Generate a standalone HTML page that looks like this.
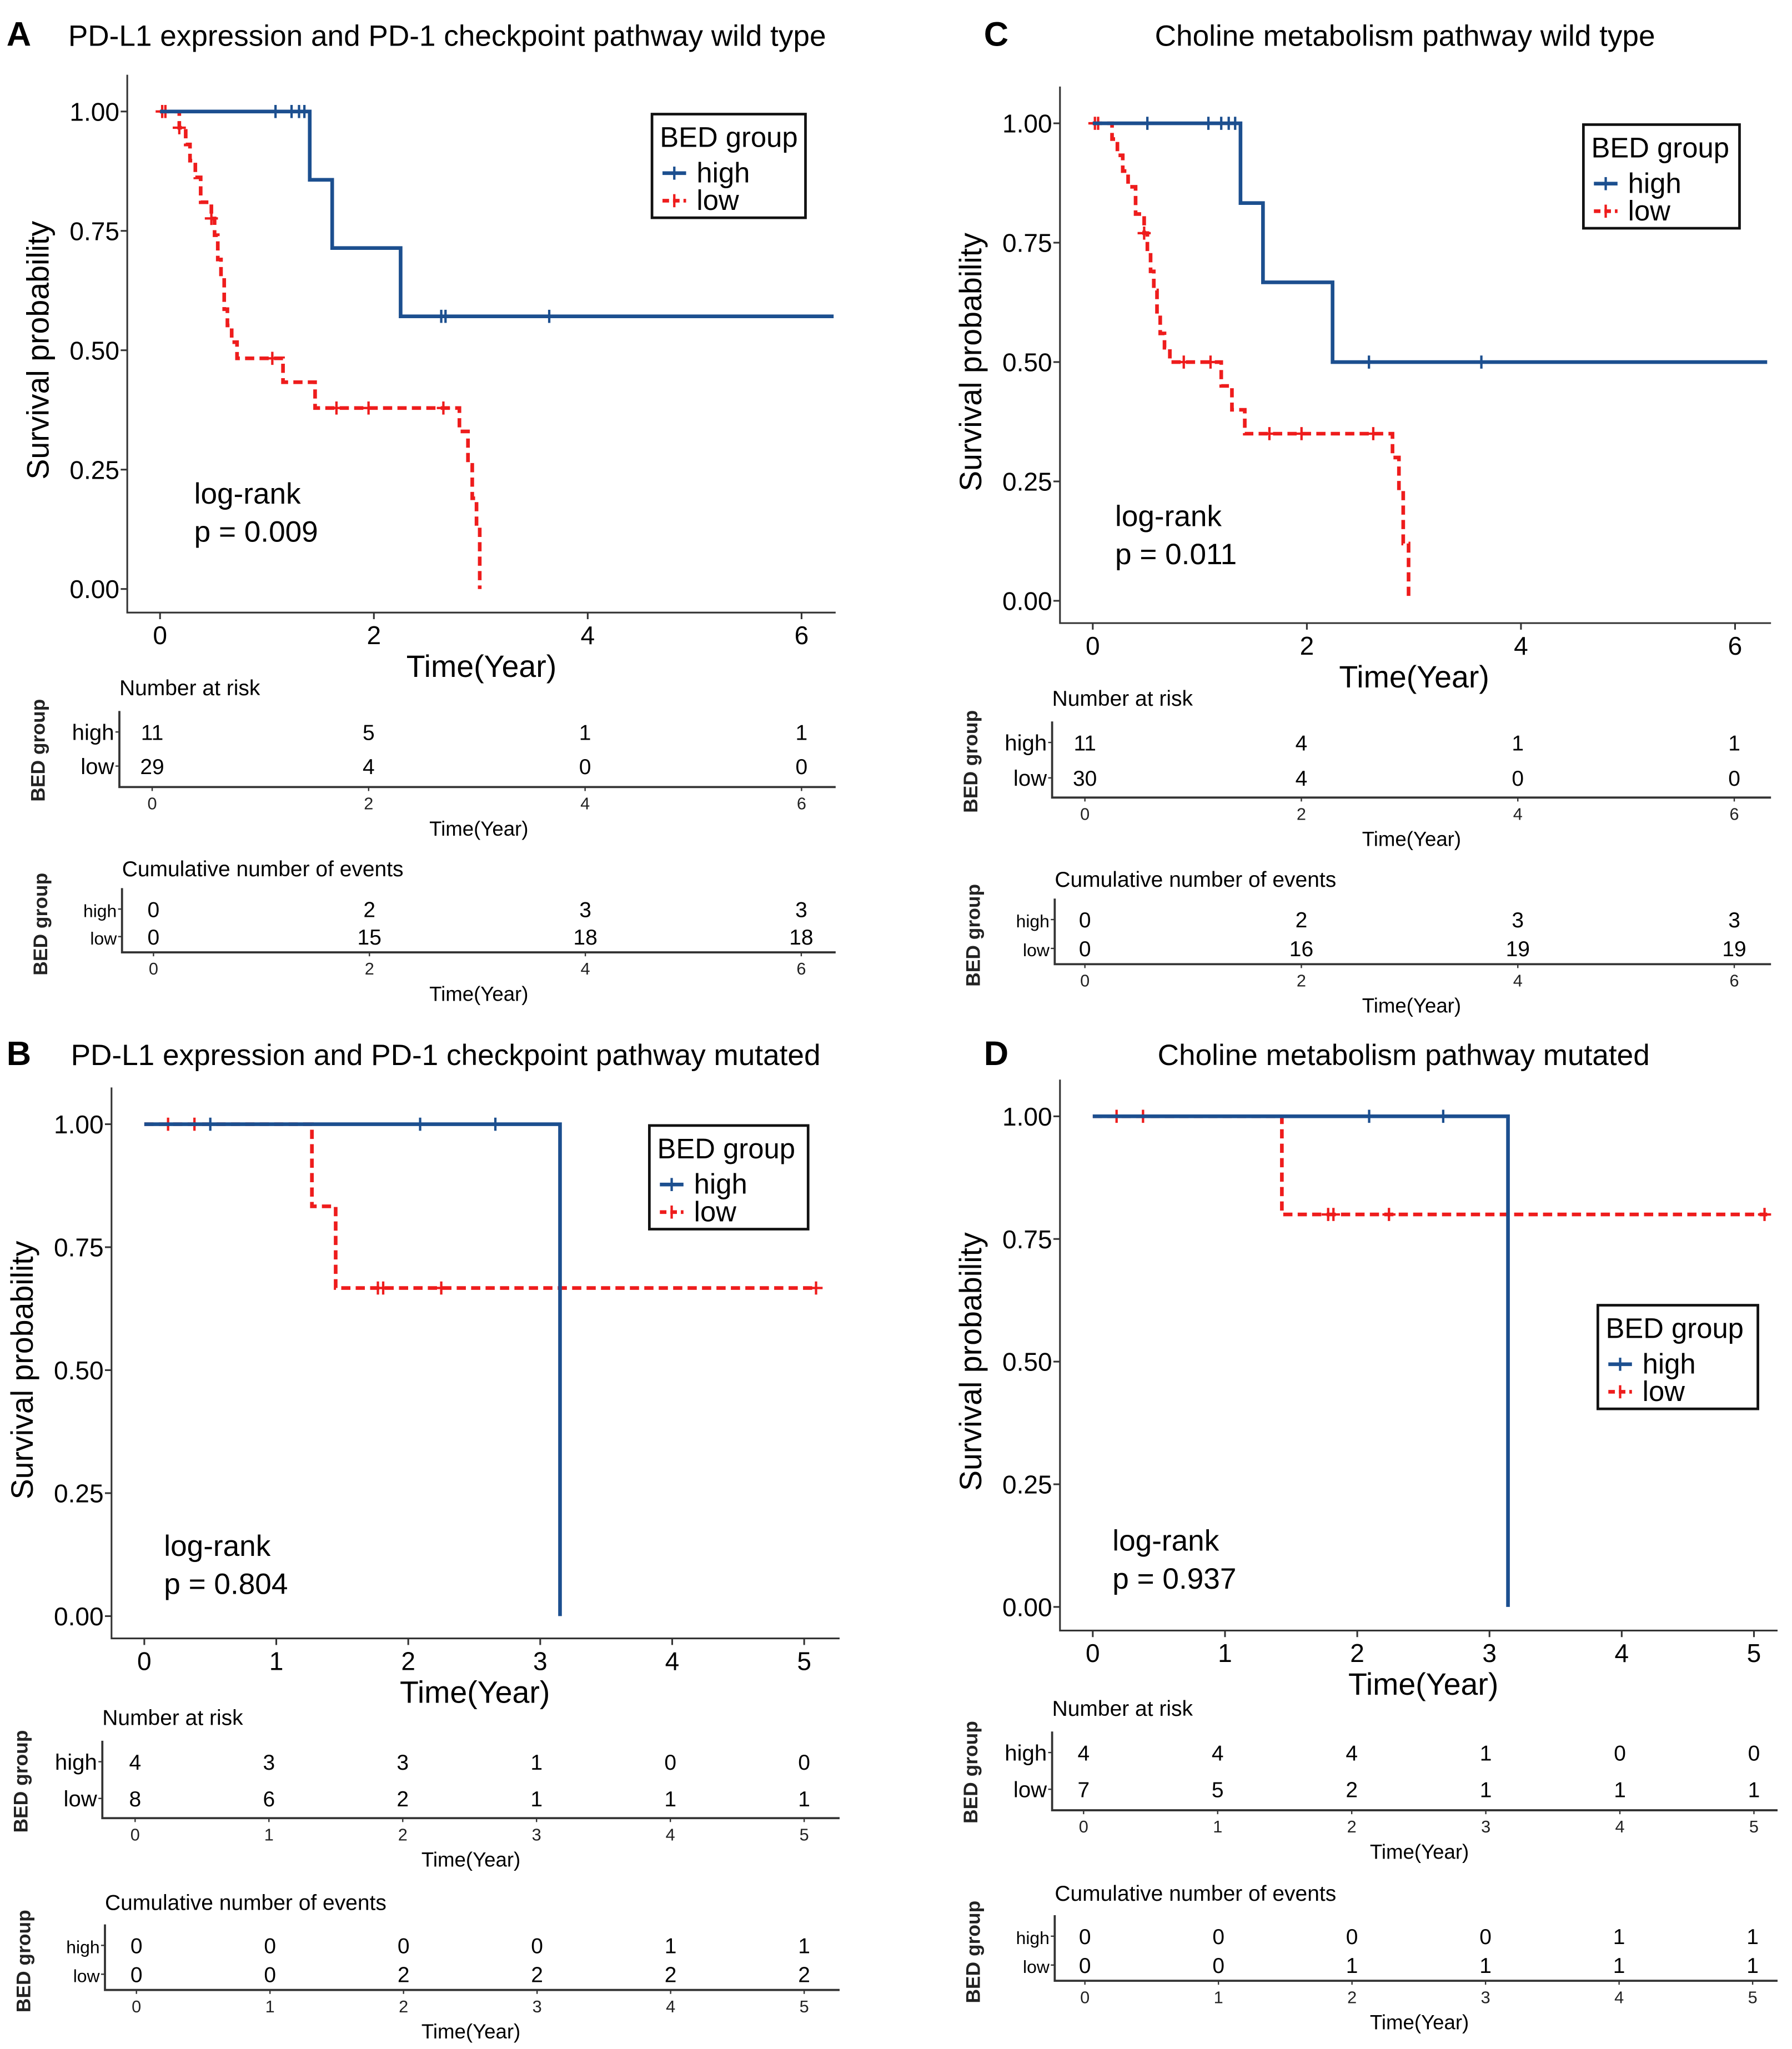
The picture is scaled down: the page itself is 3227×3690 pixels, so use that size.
<!DOCTYPE html>
<html><head><meta charset="utf-8">
<style>
html,body{margin:0;padding:0;background:#fff;}
svg{display:block;font-family:"Liberation Sans",Arial,sans-serif;}
</style></head>
<body>
<svg id="fig" width="3227" height="3690" viewBox="0 0 1366 1562" xmlns="http://www.w3.org/2000/svg"></svg>
<script>
// ===== Data =====
// Panel A
const aHighTimes = [1.40, 1.61, 2.25];
const aHighSurv = [0.857, 0.714, 0.571];
const aHighCensor = [1.08, 1.23, 1.30, 1.35, 2.63, 2.67, 3.64];
const aHighEnd = 6.3;
const aLowTimes = [0.18, 0.24, 0.28, 0.33, 0.38, 0.48, 0.51, 0.54, 0.57, 0.60, 0.63, 0.67, 0.72, 1.15, 1.45, 2.80, 2.88, 2.92, 2.96, 2.99];
const aLowSurv = [0.966, 0.931, 0.897, 0.862, 0.81, 0.776, 0.741, 0.69, 0.655, 0.586, 0.552, 0.517, 0.483, 0.433, 0.379, 0.33, 0.26, 0.19, 0.13, 0.0];
const aLowCensor = [0.02, 0.05, 0.18, 0.48, 1.05, 1.65, 1.95, 2.65];
const aLowEnd = 2.99;
const aRiskHigh = [11, 5, 1, 1];
const aRiskLow = [29, 4, 0, 0];
const aEvHigh = [0, 2, 3, 3];
const aEvLow = [0, 15, 18, 18];
// Panel C
const cHighTimes = [1.38, 1.59, 2.24];
const cHighSurv = [0.833, 0.667, 0.5];
const cHighCensor = [0.51, 1.08, 1.2, 1.27, 1.33, 2.58, 3.63];
const cHighEnd = 6.3;
const cLowTimes = [0.18, 0.23, 0.28, 0.33, 0.40, 0.48, 0.51, 0.54, 0.57, 0.60, 0.63, 0.67, 0.72, 1.20, 1.30, 1.42, 2.80, 2.86, 2.90, 2.95];
const cLowSurv = [0.967, 0.933, 0.9, 0.867, 0.81, 0.77, 0.73, 0.69, 0.65, 0.6, 0.56, 0.53, 0.5, 0.45, 0.4, 0.35, 0.3, 0.23, 0.12, 0.0];
const cLowCensor = [0.02, 0.05, 0.48, 0.85, 1.1, 1.65, 1.95, 2.62];
const cLowEnd = 2.95;
const cRiskHigh = [11, 4, 1, 1];
const cRiskLow = [30, 4, 0, 0];
const cEvHigh = [0, 2, 3, 3];
const cEvLow = [0, 16, 19, 19];
// Panel B
const bHighTimes = [3.15];
const bHighSurv = [0.0];
const bHighCensor = [0.5, 2.09, 2.66];
const bHighEnd = 3.15;
const bLowTimes = [1.27, 1.45];
const bLowSurv = [0.833, 0.667];
const bLowCensor = [0.18, 0.38, 1.77, 1.81, 2.25, 5.09];
const bLowEnd = 5.1;
const bRiskHigh = [4, 3, 3, 1, 0, 0];
const bRiskLow = [8, 6, 2, 1, 1, 1];
const bEvHigh = [0, 0, 0, 0, 1, 1];
const bEvLow = [0, 0, 2, 2, 2, 2];
// Panel D
const dHighTimes = [3.14];
const dHighSurv = [0.0];
const dHighCensor = [2.09, 2.65];
const dHighEnd = 3.14;
const dLowTimes = [1.43];
const dLowSurv = [0.8];
const dLowCensor = [0.18, 0.38, 1.78, 1.82, 2.24, 5.08];
const dLowEnd = 5.1;
const dRiskHigh = [4, 4, 4, 1, 0, 0];
const dRiskLow = [7, 5, 2, 1, 1, 1];
const dEvHigh = [0, 0, 0, 0, 1, 1];
const dEvLow = [0, 0, 1, 1, 1, 1];

const yTickVals = [0, 0.25, 0.5, 0.75, 1];
const yTickLabels = ["0.00", "0.25", "0.50", "0.75", "1.00"];
const xTicks6 = [0, 2, 4, 6];
const xTicks5 = [0, 1, 2, 3, 4, 5];

const NS = "http://www.w3.org/2000/svg";
const svg = document.getElementById("fig");
function mk(tag, attrs, parent, text) {
  const e = document.createElementNS(NS, tag);
  for (const k in attrs) e.setAttribute(k, attrs[k]);
  if (text !== undefined) e.textContent = text;
  (parent || svg).appendChild(e);
  return e;
}
const BLUE = "#1c4f8f", RED = "#ee1c1c";

function survAt(times, surv, t) {
  let s = 1;
  for (let i = 0; i < times.length; i++) if (times[i] <= t) s = surv[i];
  return s;
}

function drawPanel(P) {
  const g = mk("g", {});
  
  
  const X = t => P.x0 + t * P.xs;
  const Y = s => P.y0 + (P.y1 - P.y0) * s;
  const L = mk("text", {x: P.lx, y: P.ty, "font-size": 26, "font-weight": "bold"}, g, P.id);
  
  
  const T = mk("text", {x: P.tx, y: P.ty, "font-size": 22.5, "text-anchor": P.ta}, g, P.title);
  
  
  const ax = mk("path", {d: `M${P.axL},${P.y1 - 28}V${P.axB}H${P.axR}`, fill: "none", stroke: "#333", "stroke-width": 1.3}, g);
  
  
  yTickVals.forEach((v, i) => {
    mk("line", {x1: P.axL - 5, x2: P.axL, y1: Y(v), y2: Y(v), stroke: "#333", "stroke-width": 1.3}, g);
    const t = mk("text", {x: P.axL - 6, y: Y(v) + 7, "font-size": 19.5, "text-anchor": "end"}, g, yTickLabels[i]);
    
    
  });
  P.xt.forEach(v => {
    mk("line", {x1: X(v), x2: X(v), y1: P.axB, y2: P.axB + 5, stroke: "#333", "stroke-width": 1.3}, g);
    const t = mk("text", {x: X(v), y: P.axB + 24, "font-size": 19.5, "text-anchor": "middle"}, g, String(v));
    
    
  });
  const xl = mk("text", {x: P.xlx, y: P.axB + 49, "font-size": 23.5, "text-anchor": "middle"}, g, "Time(Year)");
  
  
  const ylx = P.axL - 60, yly = (Y(0) + Y(1)) / 2;
  const yl = mk("text", {x: ylx, y: yly, "font-size": 23.5, "text-anchor": "middle", transform: `rotate(-90 ${ylx} ${yly})`}, g, "Survival probability");
  
  
  function curve(times, surv, cens, end, color, dash, name) {
    let d = `M${X(0)},${Y(1)}`;
    for (let i = 0; i < times.length; i++) d += `H${X(times[i])}V${Y(surv[i])}`;
    d += `H${X(end)}`;
    const p = mk("path", {d, fill: "none", stroke: color, "stroke-width": 2.8, "stroke-dasharray": dash}, g);
    
    
    cens.forEach(c => {
      const s = survAt(times, surv, c);
      const m = mk("path", {d: `M${X(c) - 5},${Y(s)}H${X(c) + 5}M${X(c)},${Y(s) - 5}V${Y(s) + 5}`, stroke: color, "stroke-width": 1.8}, g);
      
      
    });
  }
  curve(P.lowT, P.lowS, P.lowC, P.lowE, RED, "7 4", "low");
  curve(P.highT, P.highS, P.highC, P.highE, BLUE, "none", "high");
  const lr = mk("text", {x: P.lrx, y: P.lry, "font-size": 22.5}, g, "log-rank");
  
  
  const pv = mk("text", {x: P.lrx, y: P.lry + 29, "font-size": 22.5}, g, "p = " + P.p);
  
  
  const lg = mk("g", {}, g);
  
  
  mk("rect", {x: P.lgx, y: P.lgy, width: P.lgw, height: 79, fill: "#fff", stroke: "#111", "stroke-width": 2}, lg);
  mk("text", {x: P.lgx + 6, y: P.lgy + 25, "font-size": 21.5}, lg, "BED group");
  [["high", BLUE, "none", 52], ["low", RED, "5 3", 73]].forEach(([n, c, d, dy]) => {
    const e = mk("g", {}, lg);
    
    
    const yy = P.lgy + dy - 7;
    mk("line", {x1: P.lgx + 8, x2: P.lgx + 26, y1: yy, y2: yy, stroke: c, "stroke-width": 2.8, "stroke-dasharray": d}, e);
    mk("line", {x1: P.lgx + 17, x2: P.lgx + 17, y1: yy - 5, y2: yy + 5, stroke: c, "stroke-width": 1.8}, e);
    mk("text", {x: P.lgx + 34, y: P.lgy + dy, "font-size": 21.5}, e, n);
  });
  function table(tb, hv, lv, title, small) {
    const tg = mk("g", {}, g);
    
    
    const TX = t => tb.x0 + t * tb.xs;
    mk("text", {x: tb.ax, y: tb.ty, "font-size": 16.5}, tg, title);
    mk("path", {d: `M${tb.ax},${tb.hy - 22}V${tb.bot}H${tb.r}`, fill: "none", stroke: "#333", "stroke-width": 1.6}, tg);
    [["high", tb.hy, hv], ["low", tb.ly, lv]].forEach(([n, yy, vals]) => {
      mk("line", {x1: tb.ax - 3, x2: tb.ax, y1: yy - 6, y2: yy - 6, stroke: "#333"}, tg);
      mk("text", {x: tb.ax - 4, y: yy, "font-size": small ? 13.5 : 17, "text-anchor": "end"}, tg, n);
      vals.forEach((v, i) => {
        const t = mk("text", {x: TX(P.xt[i]), y: yy, "font-size": 16.5, "text-anchor": "middle"}, tg, String(v));
        
        
      });
    });
    P.xt.forEach(v => {
      mk("line", {x1: TX(v), x2: TX(v), y1: tb.bot, y2: tb.bot + 3, stroke: "#333"}, tg);
      mk("text", {x: TX(v), y: tb.bot + 17, "font-size": 13, "text-anchor": "middle", fill: "#222"}, tg, String(v));
    });
    mk("text", {x: tb.tlx, y: tb.bot + 37, "font-size": 15.5, "text-anchor": "middle"}, tg, "Time(Year)");
    const bx = tb.ax - 57, by = (tb.hy + tb.ly) / 2 - 5;
    mk("text", {x: bx, y: by, "font-size": 15, "font-weight": "bold", "text-anchor": "middle", transform: `rotate(-90 ${bx} ${by})`, fill: "#222"}, tg, "BED group");
  }
  table(P.r1, P.rh, P.rl, "Number at risk", false);
  table(P.r2, P.eh, P.el, "Cumulative number of events", true);
}

drawPanel({id: "A", title: "PD-L1 expression and PD-1 checkpoint pathway wild type", lx: 5, tx: 52, ty: 35, ta: "start",
  x0: 122, xs: 81.5, y0: 449, y1: 85, axL: 97, axB: 467, axR: 637, xt: xTicks6, xlx: 367,
  highT: aHighTimes, highS: aHighSurv, highC: aHighCensor, highE: aHighEnd,
  lowT: aLowTimes, lowS: aLowSurv, lowC: aLowCensor, lowE: aLowEnd,
  lrx: 148, lry: 384, p: "0.009", lgx: 497, lgy: 87, lgw: 117,
  r1: {ax: 91, ty: 530, hy: 564, ly: 590, bot: 600, r: 637, x0: 116, xs: 82.5, tlx: 365},
  r2: {ax: 93, ty: 668, hy: 699, ly: 720, bot: 726, r: 637, x0: 117, xs: 82.3, tlx: 365},
  rh: aRiskHigh, rl: aRiskLow, eh: aEvHigh, el: aEvLow});

drawPanel({id: "C", title: "Choline metabolism pathway wild type", lx: 750, tx: 1071, ty: 35, ta: "middle",
  x0: 833, xs: 81.6, y0: 458, y1: 94, axL: 808, axB: 475, axR: 1350, xt: xTicks6, xlx: 1078,
  highT: cHighTimes, highS: cHighSurv, highC: cHighCensor, highE: cHighEnd,
  lowT: cLowTimes, lowS: cLowSurv, lowC: cLowCensor, lowE: cLowEnd,
  lrx: 850, lry: 401, p: "0.011", lgx: 1207, lgy: 95, lgw: 119,
  r1: {ax: 802, ty: 538, hy: 572, ly: 599, bot: 608, r: 1350, x0: 827, xs: 82.5, tlx: 1076},
  r2: {ax: 804, ty: 676, hy: 707, ly: 729, bot: 735, r: 1350, x0: 827, xs: 82.5, tlx: 1076},
  rh: cRiskHigh, rl: cRiskLow, eh: cEvHigh, el: cEvLow});

drawPanel({id: "B", title: "PD-L1 expression and PD-1 checkpoint pathway mutated", lx: 5, tx: 54, ty: 812, ta: "start",
  x0: 110, xs: 100.6, y0: 1232, y1: 857, axL: 85, axB: 1249, axR: 640, xt: xTicks5, xlx: 362,
  highT: bHighTimes, highS: bHighSurv, highC: bHighCensor, highE: bHighEnd,
  lowT: bLowTimes, lowS: bLowSurv, lowC: bLowCensor, lowE: bLowEnd,
  lrx: 125, lry: 1186, p: "0.804", lgx: 495, lgy: 858, lgw: 121,
  r1: {ax: 78, ty: 1315, hy: 1349, ly: 1377, bot: 1386, r: 640, x0: 103, xs: 102, tlx: 359},
  r2: {ax: 80, ty: 1456, hy: 1489, ly: 1511, bot: 1517, r: 640, x0: 104, xs: 101.8, tlx: 359},
  rh: bRiskHigh, rl: bRiskLow, eh: bEvHigh, el: bEvLow});

drawPanel({id: "D", title: "Choline metabolism pathway mutated", lx: 750, tx: 1070, ty: 812, ta: "middle",
  x0: 833, xs: 100.8, y0: 1225, y1: 851, axL: 808, axB: 1243, axR: 1355, xt: xTicks5, xlx: 1085,
  highT: dHighTimes, highS: dHighSurv, highC: dHighCensor, highE: dHighEnd,
  lowT: dLowTimes, lowS: dLowSurv, lowC: dLowCensor, lowE: dLowEnd,
  lrx: 848, lry: 1182, p: "0.937", lgx: 1218, lgy: 995, lgw: 122,
  r1: {ax: 802, ty: 1308, hy: 1342, ly: 1370, bot: 1380, r: 1355, x0: 826, xs: 102.2, tlx: 1082},
  r2: {ax: 804, ty: 1449, hy: 1482, ly: 1504, bot: 1510, r: 1355, x0: 827, xs: 101.8, tlx: 1082},
  rh: dRiskHigh, rl: dRiskLow, eh: dEvHigh, el: dEvLow});
</script>
</body></html>
